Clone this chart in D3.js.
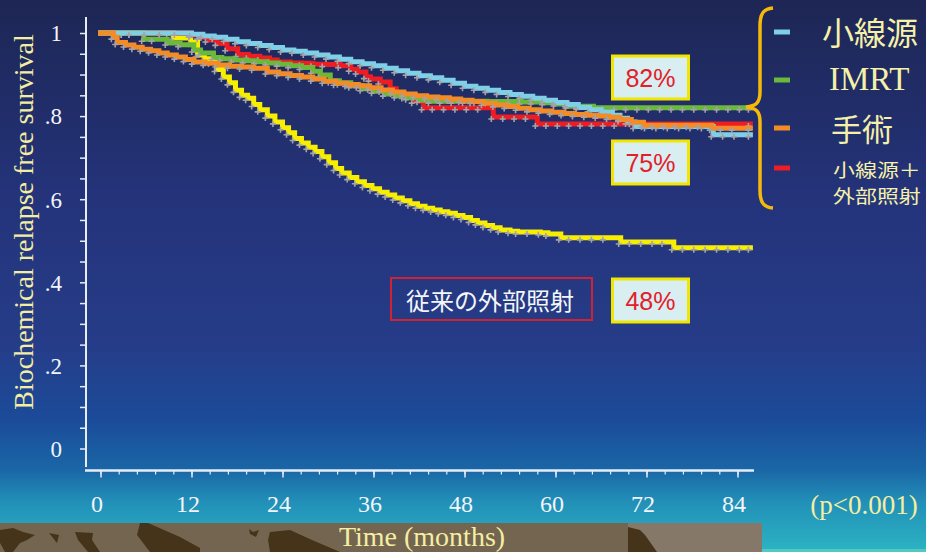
<!DOCTYPE html>
<html>
<head>
<meta charset="utf-8">
<script src="https://cdn.jsdelivr.net/npm/d3@7"></script>
<style>
  html, body { margin: 0; padding: 0; overflow: hidden; background: #1d2654; }
  svg { display: block; }
</style>
</head>
<body>
<svg id="chart" width="926" height="552"></svg>
<script>
// ---- data -------------------------------------------------------------
const xTicks = [0, 12, 24, 36, 48, 60, 72, 84];
const yTicks = [0, 0.2, 0.4, 0.6, 0.8, 1];
const yTickLabels = ["0", ".2", ".4", ".6", ".8", "1"];
const seriesNames = ["小線源", "IMRT", "手術", "小線源＋外部照射", "従来の外部照射"];
const rateLabels = ["82%", "75%", "48%"];

// Kaplan–Meier estimates, [month, survival]; every row after the first is an event or a censored case
const brachy = [
  [0,1],[2,1],[4,1],[6,1],[8,1],[10,1],[12,0.997],[13.5,0.993],[15,0.99],[16.5,0.985],
  [18,0.979],[19.5,0.975],[21,0.97],[22.5,0.965],[24,0.959],[25.5,0.956],[27,0.952],
  [28.5,0.947],[30,0.942],[31.5,0.937],[33,0.931],[34.5,0.926],[36,0.921],[37.5,0.915],
  [39,0.909],[40.5,0.903],[42,0.897],[43.5,0.892],[45,0.886],[46.5,0.879],[48,0.872],
  [49.5,0.867],[51,0.862],[52.5,0.857],[54,0.852],[55.5,0.848],[57,0.843],[58.5,0.838],
  [60,0.833],[61.5,0.828],[63,0.821],[64.5,0.815],[66,0.809],[67.5,0.802],[68.5,0.795],
  [69.5,0.786],[70.5,0.775],[72,0.775],[73.5,0.775],[75,0.775],[76.5,0.775],[78,0.775],
  [79.5,0.775],[80.8,0.755],[82.3,0.755],[83.8,0.755],[85.7,0.755]
];
const imrt = [
  [0,1],[2,1],[4,1],[5.7,0.985],[7,0.985],[8.8,0.976],[10.5,0.972],[12.3,0.959],[13.2,0.952],
  [14.9,0.941],[16,0.938],[17.5,0.935],[19,0.933],[20.5,0.931],[22,0.928],[23.5,0.925],
  [25,0.921],[26.5,0.917],[28,0.908],[29,0.899],[30.3,0.885],[31.5,0.88],[33,0.873],
  [34.5,0.866],[36,0.86],[37.5,0.853],[39,0.849],[40.5,0.844],[42,0.838],[43.5,0.836],
  [45,0.836],[46.5,0.836],[48,0.836],[49.5,0.836],[51,0.835],[52.5,0.835],[54,0.835],
  [55.5,0.834],[57,0.834],[58.5,0.832],[60,0.829],[61.6,0.824],[63,0.824],[65,0.82],
  [66.5,0.82],[68,0.82],[69.5,0.82],[71,0.82],[72.5,0.82],[74,0.82],[75.5,0.82],[77,0.82],
  [78.5,0.82],[80,0.82],[81.5,0.82],[83,0.82],[84.5,0.82],[85.7,0.82]
];
const surgery = [
  [0,1],[1.7,0.99],[2.2,0.977],[3.3,0.971],[4.4,0.966],[5.5,0.961],[6.6,0.957],[7.7,0.952],
  [8.8,0.947],[10,0.942],[11.2,0.936],[12.3,0.93],[13.8,0.927],[15.4,0.923],[17,0.92],
  [18.6,0.918],[20.2,0.915],[22,0.906],[23.5,0.902],[25,0.898],[26.5,0.894],[28,0.889],
  [29.5,0.884],[31,0.879],[32.5,0.876],[34,0.873],[35.5,0.868],[37,0.863],[38.5,0.858],
  [40,0.853],[41.5,0.849],[43,0.846],[44.5,0.844],[46,0.841],[47.5,0.838],[49,0.835],
  [50.5,0.831],[52,0.827],[53.5,0.823],[55,0.819],[56.5,0.815],[58,0.812],[59.5,0.809],
  [61,0.806],[62.5,0.804],[64,0.802],[65.5,0.8],[67,0.797],[68.5,0.792],[70,0.785],
  [71.6,0.778],[73,0.778],[74.5,0.778],[76,0.778],[77.5,0.778],[79,0.778],[80.6,0.771],
  [82,0.771],[83.5,0.771],[85.7,0.771]
];
const brachyEbrt = [
  [0,1],[3,1],[6,1],[9,1],[11.9,0.995],[13,0.99],[14.1,0.983],[15.4,0.975],[16.7,0.962],
  [18.1,0.948],[19.5,0.944],[21,0.94],[22.3,0.935],[23.3,0.93],[25,0.928],[26.5,0.927],
  [28,0.925],[29.5,0.924],[31.6,0.921],[33,0.913],[33.9,0.906],[35,0.895],[35.6,0.889],
  [36.9,0.882],[38.2,0.866],[39,0.857],[40,0.847],[41.3,0.836],[42.6,0.82],[44,0.82],
  [45.5,0.82],[47,0.82],[48.5,0.82],[50,0.82],[51.8,0.798],[53.3,0.798],[54.8,0.798],
  [56.3,0.798],[57.6,0.781],[59,0.781],[60.5,0.781],[62,0.781],[63.5,0.781],[65,0.781],
  [66.5,0.781],[68,0.781],[85.7,0.781]
];
const conventionalEbrt = [
  [0,1],[3,1],[6,1],[9.6,0.988],[11.9,0.978],[12.8,0.947],[13.7,0.938],[14.5,0.93],
  [15.3,0.912],[16.2,0.894],[17,0.88],[17.8,0.862],[18.6,0.85],[19.4,0.843],[20.2,0.828],
  [21,0.815],[22,0.8],[23,0.786],[24,0.772],[24.8,0.76],[25.6,0.746],[26.5,0.735],
  [27.4,0.725],[28.3,0.715],[29.2,0.702],[30.1,0.688],[31,0.674],[31.8,0.663],[32.8,0.652],
  [33.8,0.642],[34.8,0.633],[35.8,0.625],[36.8,0.617],[37.8,0.61],[38.8,0.603],[39.8,0.596],
  [40.8,0.589],[41.8,0.583],[42.8,0.578],[43.8,0.574],[44.8,0.57],[45.8,0.566],[46.8,0.561],
  [47.8,0.556],[48.8,0.549],[49.7,0.543],[50.7,0.537],[51.7,0.531],[52.7,0.526],[54,0.523],
  [55,0.521],[56.5,0.521],[58,0.519],[59,0.516],[60.7,0.507],[62,0.507],[63.5,0.507],
  [65,0.507],[66.5,0.507],[68.6,0.497],[70,0.497],[71.5,0.497],[73,0.497],[74.3,0.497],
  [75.6,0.483],[77,0.483],[78.5,0.483],[80,0.483],[81.5,0.483],[83,0.483],[84.5,0.483],
  [85.7,0.483]
];

// ---- setup ------------------------------------------------------------
const W = 926, H = 552;
const svg = d3.select("#chart");
const defs = svg.append("defs");

const bg = defs.append("linearGradient").attr("id", "bg")
  .attr("x1", 0).attr("y1", 0).attr("x2", 0).attr("y2", 1);
[[0, "#1d2654"], [0.35, "#24337a"], [0.62, "#263c88"], [0.76, "#1b4b99"],
 [0.85, "#1a66a6"], [0.91, "#2290b8"], [1, "#2cb4c3"]]
  .forEach(([o, c]) => bg.append("stop").attr("offset", o).attr("stop-color", c));

svg.append("rect").attr("width", W).attr("height", H).attr("fill", "url(#bg)");

// scenic strip along the bottom
const strip = svg.append("g");
strip.append("rect").attr("x", 762).attr("y", 549).attr("width", 164).attr("height", 3).attr("fill", "#52c9c0");
strip.append("rect").attr("x", 0).attr("y", 523).attr("width", 762).attr("height", 29).attr("fill", "#736550");
strip.append("rect").attr("x", 628).attr("y", 523).attr("width", 134).attr("height", 29).attr("fill", "#857868");
const rocks = [
  [[0,530],[13,528],[23,532],[35,535],[27,540],[20,543],[13,552],[5,552],[0,543]],
  [[49,533],[59,535],[57,543]],
  [[75,532],[93,533],[92,540],[100,552],[88,552],[78,540]],
  [[140,523],[148,523],[180,537],[200,548],[200,552],[150,552],[137,535]],
  [[249,529],[253,532],[259,530],[256,537],[250,534]],
  [[270,532],[290,530],[312,540],[340,552],[270,552],[268,540]],
  [[628,527],[640,530],[645,535],[657,552],[628,552]]
];
strip.selectAll("path.rock").data(rocks).join("path")
  .attr("class", "rock")
  .attr("d", d => "M" + d.map(p => p.join(",")).join("L") + "Z")
  .attr("fill", "#45341a");

// ---- scales & axes ----------------------------------------------------
const x = d3.scaleLinear().domain([0, 84]).range([100.5, 737.5]);
const y = d3.scaleLinear().domain([0, 1]).range([448.5, 33]);
const axisColor = "#e6edf4";
const serif = "'Liberation Serif', 'Times New Roman', serif";
const sans = "'Liberation Sans', Arial, sans-serif";
const cjk = "'Noto Sans CJK JP', 'Noto Sans CJK SC', sans-serif";

// y axis
const yMinor = d3.range(0, 1.0001, 0.05).map(v => +v.toFixed(2));
const yAxis = d3.axisLeft(y)
  .tickValues(yMinor)
  .tickSize(6)
  .tickPadding(18)
  .tickFormat(v => {
    const i = yTicks.findIndex(t => Math.abs(t - v) < 1e-6);
    return i >= 0 ? yTickLabels[i] : "";
  });
const gy = svg.append("g").attr("transform", "translate(86,0)").call(yAxis);
gy.select(".domain").remove();
gy.selectAll(".tick line").attr("stroke", axisColor).attr("stroke-width", 1.5);
gy.selectAll(".tick text").attr("fill", "#f2f5fa").attr("font-family", serif)
  .attr("font-size", 23).attr("dy", "0.34em");
gy.append("line").attr("x1", 0).attr("x2", 0).attr("y1", 17).attr("y2", 467)
  .attr("stroke", axisColor).attr("stroke-width", 2);

// x axis: minor ticks every fifth of a year, labelled ticks every year
const gxMinor = svg.append("g").attr("transform", "translate(0,470.5)")
  .call(d3.axisBottom(x).tickValues(d3.range(0, 84.001, 2.4)).tickSize(4).tickFormat(""));
gxMinor.select(".domain").remove();
gxMinor.selectAll(".tick line").attr("stroke", axisColor).attr("stroke-width", 1.2);

const gx = svg.append("g").attr("transform", "translate(0,470.5)")
  .call(d3.axisBottom(x).tickValues(xTicks).tickSize(7).tickPadding(17).tickFormat(d3.format("d")));
gx.select(".domain").remove();
gx.selectAll(".tick line").attr("stroke", axisColor).attr("stroke-width", 1.5);
gx.selectAll(".tick text").attr("fill", "#f2f5fa").attr("font-family", serif)
  .attr("font-size", 24).attr("dx", -4);
gx.append("line").attr("x1", 85).attr("x2", 754).attr("y1", 0).attr("y2", 0)
  .attr("stroke", axisColor).attr("stroke-width", 2.5);

// axis titles
const titleColor = "#f3eea2";
svg.append("text")
  .attr("transform", "translate(33,222) rotate(-90)")
  .attr("text-anchor", "middle").attr("font-family", serif).attr("font-size", 28)
  .attr("fill", titleColor).text("Biochemical relapse free survival");
svg.append("text")
  .attr("x", 422).attr("y", 546).attr("text-anchor", "middle")
  .attr("font-family", serif).attr("font-size", 28).attr("fill", titleColor)
  .text("Time (months)");
svg.append("text")
  .attr("x", 864).attr("y", 514).attr("text-anchor", "middle")
  .attr("font-family", serif).attr("font-size", 27).attr("fill", titleColor)
  .text("(p<0.001)");

// ---- survival curves --------------------------------------------------
const series = [
  { name: seriesNames[4], data: conventionalEbrt, color: "#f7ee00" },
  { name: seriesNames[3], data: brachyEbrt, color: "#ee1d23" },
  { name: seriesNames[1], data: imrt, color: "#6bb93a" },
  { name: seriesNames[0], data: brachy, color: "#7fd0e6" },
  { name: seriesNames[2], data: surgery, color: "#f58b25" }
];
const stepLine = d3.line().x(d => x(d[0])).y(d => y(d[1])).curve(d3.curveStepAfter);
const curves = svg.append("g");
series.forEach(s => {
  const g = curves.append("g");
  g.append("path").attr("d", stepLine(s.data))
    .attr("fill", "none").attr("stroke", s.color).attr("stroke-width", 5)
    .attr("stroke-linejoin", "miter").attr("stroke-linecap", "square");
  // censoring marks sit on the lower edge of each step
  g.selectAll("path.mark").data(s.data.slice(1)).join("path")
    .attr("class", "mark")
    .attr("d", d => {
      const cx = x(d[0]) - 2, cy = y(d[1]) + 2;
      return `M${cx - 3},${cy}h6M${cx},${cy - 3}v6`;
    })
    .attr("stroke", "#a3a3a8").attr("stroke-width", 1.6).attr("fill", "none");
});

// ---- annotations ------------------------------------------------------
function rateBox(label, top) {
  svg.append("rect").attr("x", 612.5).attr("y", top).attr("width", 76).attr("height", 43)
    .attr("fill", "#d8eef1").attr("stroke", "#f1e600").attr("stroke-width", 3);
  svg.append("text").attr("x", 650.5).attr("y", top + 21.5).attr("dy", "0.36em")
    .attr("text-anchor", "middle").attr("font-family", sans).attr("font-size", 25)
    .attr("fill", "#e2202a").text(label);
}
rateBox(rateLabels[0], 56);
rateBox(rateLabels[1], 141);
rateBox(rateLabels[2], 279);

svg.append("rect").attr("x", 391).attr("y", 278).attr("width", 201).attr("height", 42)
  .attr("fill", "none").attr("stroke", "#cf2232").attr("stroke-width", 2);
svg.append("text").attr("x", 490).attr("y", 299).attr("dominant-baseline", "central")
  .attr("text-anchor", "middle").attr("font-family", cjk).attr("font-size", 24)
  .attr("fill", "#f4f6fa").text(seriesNames[4]);

// ---- legend -----------------------------------------------------------
svg.append("path")
  .attr("d", "M773,8 C763,9 760,14 760,26 L760,92 C760,103 756,106 746,107 C756,108 760,111 760,122 L760,190 C760,202 763,207 773,208")
  .attr("fill", "none").attr("stroke", "#f6b90a").attr("stroke-width", 3.5);

const legend = [
  { color: "#7fd0e6", y: 32 },
  { color: "#6bb93a", y: 80 },
  { color: "#f58b25", y: 128 },
  { color: "#ee1d23", y: 168 }
];
svg.selectAll("rect.key").data(legend).join("rect")
  .attr("class", "key").attr("x", 774).attr("y", d => d.y - 2.5)
  .attr("width", 16).attr("height", 5).attr("fill", d => d.color);

const legendColor = "#f6f1a8";
svg.append("text").attr("x", 822).attr("y", 31).attr("dominant-baseline", "central")
  .attr("font-family", cjk).attr("font-size", 32).attr("fill", legendColor).text(seriesNames[0]);
svg.append("text").attr("x", 829).attr("y", 90)
  .attr("font-family", serif).attr("font-size", 33).attr("fill", legendColor).text(seriesNames[1]);
svg.append("text").attr("x", 831).attr("y", 127).attr("dominant-baseline", "central")
  .attr("font-family", cjk).attr("font-size", 31).attr("fill", legendColor).text(seriesNames[2]);
// two-line label for the combined therapy, set slightly wide in a compact line box
const combo = seriesNames[3];
[[combo.slice(0, 4), 169], [combo.slice(4), 195]].forEach(([t, cy]) => {
  svg.append("text")
    .attr("transform", `translate(833,${cy}) scale(1.22,1)`)
    .attr("dominant-baseline", "central")
    .attr("font-family", cjk).attr("font-size", 18).attr("fill", legendColor).text(t);
});
</script>
</body>
</html>
